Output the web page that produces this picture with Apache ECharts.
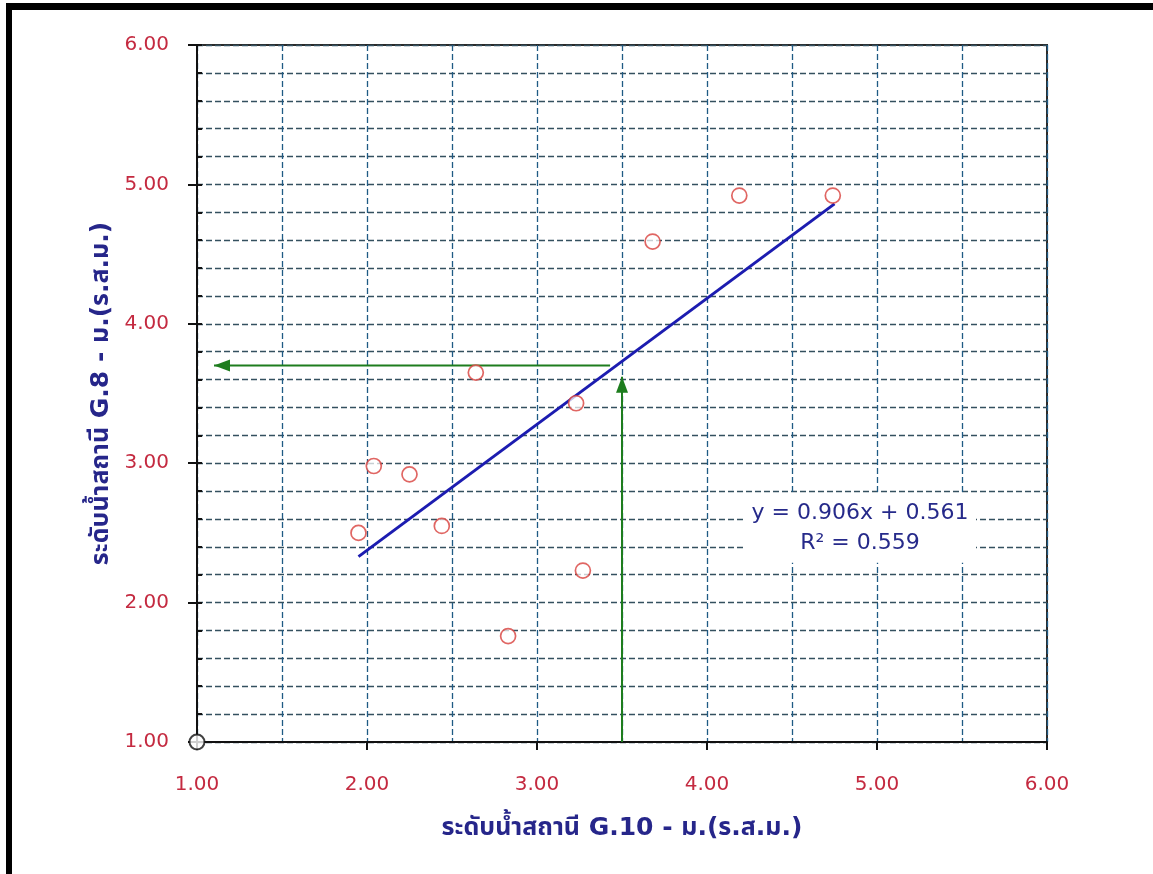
<!DOCTYPE html>
<html>
<head>
<meta charset="utf-8">
<script src="https://cdn.jsdelivr.net/npm/echarts@6/dist/echarts.min.js"></script>
<style>
html,body{margin:0;padding:0;background:#fff;}
#chart{width:1153px;height:874px;}
</style>
</head>
<body>
<div id="chart"></div>
<script>
// ---- data ----
const pointsX = [1.95, 2.04, 2.25, 2.44, 2.83, 3.27, 2.64, 3.23, 3.68, 4.19, 4.74];
const pointsY = [2.50, 2.98, 2.92, 2.55, 1.76, 2.23, 3.65, 3.43, 4.59, 4.92, 4.92];
const originPoint = [1.00, 1.00];
const trendX = [1.95, 4.75];
const trendY = [2.33, 4.86];
const arrowUpX = [3.50, 3.50];
const arrowUpY = [1.00, 3.62];
const arrowLeftX = [3.43, 1.10];
const arrowLeftY = [3.70, 3.70];
const equationText = ['y = 0.906x + 0.561', 'R² = 0.559'];
const equationPos = [4.90, 2.53];
const xTitle = 'ระดับน้ำสถานี G.10 - ม.(ร.ส.ม.)';
const yTitle = 'ระดับน้ำสถานี G.8 - ม.(ร.ส.ม.)';

const FONT = "Tahoma, 'DejaVu Sans', 'Noto Sans Thai', 'Noto Sans', sans-serif";
const labelColor = '#c42a40';
const titleColor = '#26268a';
const greenC = '#1e7d1e';

const chart = echarts.init(document.getElementById('chart'), null, {renderer: 'canvas'});
const fmt = v => Number(v).toFixed(2);

const option = {
  backgroundColor: '#fff',
  animation: false,
  grid: {left: 197, right: 106, top: 45, bottom: 132, show: true, borderColor: '#2b2b2b', borderWidth: 2, backgroundColor: 'transparent'},
  xAxis: [
    {
      type: 'value', min: 1, max: 6, interval: 1, position: 'bottom',
      name: xTitle, nameLocation: 'middle', nameGap: 74,
      nameTextStyle: {color: titleColor, fontSize: 25, fontWeight: 'bold', fontFamily: FONT},
      axisLine: {show: true, onZero: false, lineStyle: {color: '#111', width: 2}},
      axisTick: {show: true, length: 8, lineStyle: {color: '#111', width: 2}},
      axisLabel: {color: labelColor, fontSize: 20, fontFamily: FONT, margin: 33, formatter: fmt},
      splitLine: {show: false}
    },
    {
      type: 'value', min: 1, max: 6, interval: 0.5, position: 'bottom',
      axisLine: {show: false}, axisTick: {show: false}, axisLabel: {show: false},
      splitLine: {show: true, lineStyle: {color: '#1f5a84', type: [6, 3], width: 1.3}}
    }
  ],
  yAxis: [
    {
      type: 'value', min: 1, max: 6, interval: 1, position: 'left',
      name: yTitle, nameLocation: 'middle', nameGap: 83, nameRotate: 90,
      nameTextStyle: {color: titleColor, fontSize: 25, fontWeight: 'bold', fontFamily: FONT},
      axisLine: {show: true, onZero: false, lineStyle: {color: '#111', width: 2}},
      axisTick: {show: true, length: 9, lineStyle: {color: '#111', width: 2}},
      axisLabel: {color: labelColor, fontSize: 20, fontFamily: FONT, margin: 28, formatter: fmt},
      splitLine: {show: false}
    },
    {
      type: 'value', min: 1, max: 6, interval: 0.2, position: 'left',
      axisLine: {show: false},
      axisTick: {show: true, inside: true, length: 5, lineStyle: {color: '#111', width: 2}},
      axisLabel: {show: false},
      splitLine: {show: true, lineStyle: {color: '#34505f', type: [6, 3], width: 1.3}}
    }
  ],
  series: [
    {
      type: 'line', xAxisIndex: 0, yAxisIndex: 0, z: 3,
      data: trendX.map((x, i) => [x, trendY[i]]),
      symbol: 'none', lineStyle: {color: '#1c1cb0', width: 3}
    },
    {
      type: 'line', xAxisIndex: 0, yAxisIndex: 0, z: 4,
      data: [
        {value: [arrowUpX[0], arrowUpY[0]], symbol: 'none'},
        {value: [arrowUpX[1], arrowUpY[1]], symbol: 'triangle', symbolSize: [12, 16], symbolOffset: [0, 8]}
      ],
      lineStyle: {color: greenC, width: 2}, itemStyle: {color: greenC, borderWidth: 0}
    },
    {
      type: 'line', xAxisIndex: 0, yAxisIndex: 0, z: 4,
      data: [
        {value: [arrowLeftX[0], arrowLeftY[0]], symbol: 'none'},
        {value: [arrowLeftX[1], arrowLeftY[1]], symbol: 'triangle', symbolSize: [12, 16], symbolRotate: 90, symbolOffset: [8, 0]}
      ],
      lineStyle: {color: greenC, width: 2}, itemStyle: {color: greenC, borderWidth: 0}
    },
    {
      type: 'scatter', xAxisIndex: 0, yAxisIndex: 0, z: 5,
      data: pointsX.map((x, i) => [x, pointsY[i]]),
      symbol: 'circle', symbolSize: 15,
      itemStyle: {color: 'rgba(255,255,255,0.9)', borderColor: '#d8403c', borderWidth: 1.7}
    },
    {
      type: 'scatter', xAxisIndex: 0, yAxisIndex: 0, z: 6,
      data: [originPoint],
      symbol: 'circle', symbolSize: 15,
      itemStyle: {color: '#fff', borderColor: '#111', borderWidth: 2}
    },
    {
      type: 'scatter', xAxisIndex: 0, yAxisIndex: 0, z: 2,
      data: [equationPos], silent: true,
      symbol: 'rect', symbolSize: [232, 68],
      itemStyle: {color: '#fff', opacity: 1},
      label: {
        show: true, position: 'inside', formatter: equationText.join('\n'),
        color: '#262a8a', fontSize: 22, fontFamily: FONT, lineHeight: 30, align: 'center'
      }
    }
  ],
  graphic: [
    {type: 'rect', shape: {x: 6, y: 3, width: 1147, height: 7}, style: {fill: '#000'}, z: 100},
    {type: 'rect', shape: {x: 6, y: 3, width: 6, height: 871}, style: {fill: '#000'}, z: 100}
  ]
};
chart.setOption(option);
</script>
</body>
</html>
